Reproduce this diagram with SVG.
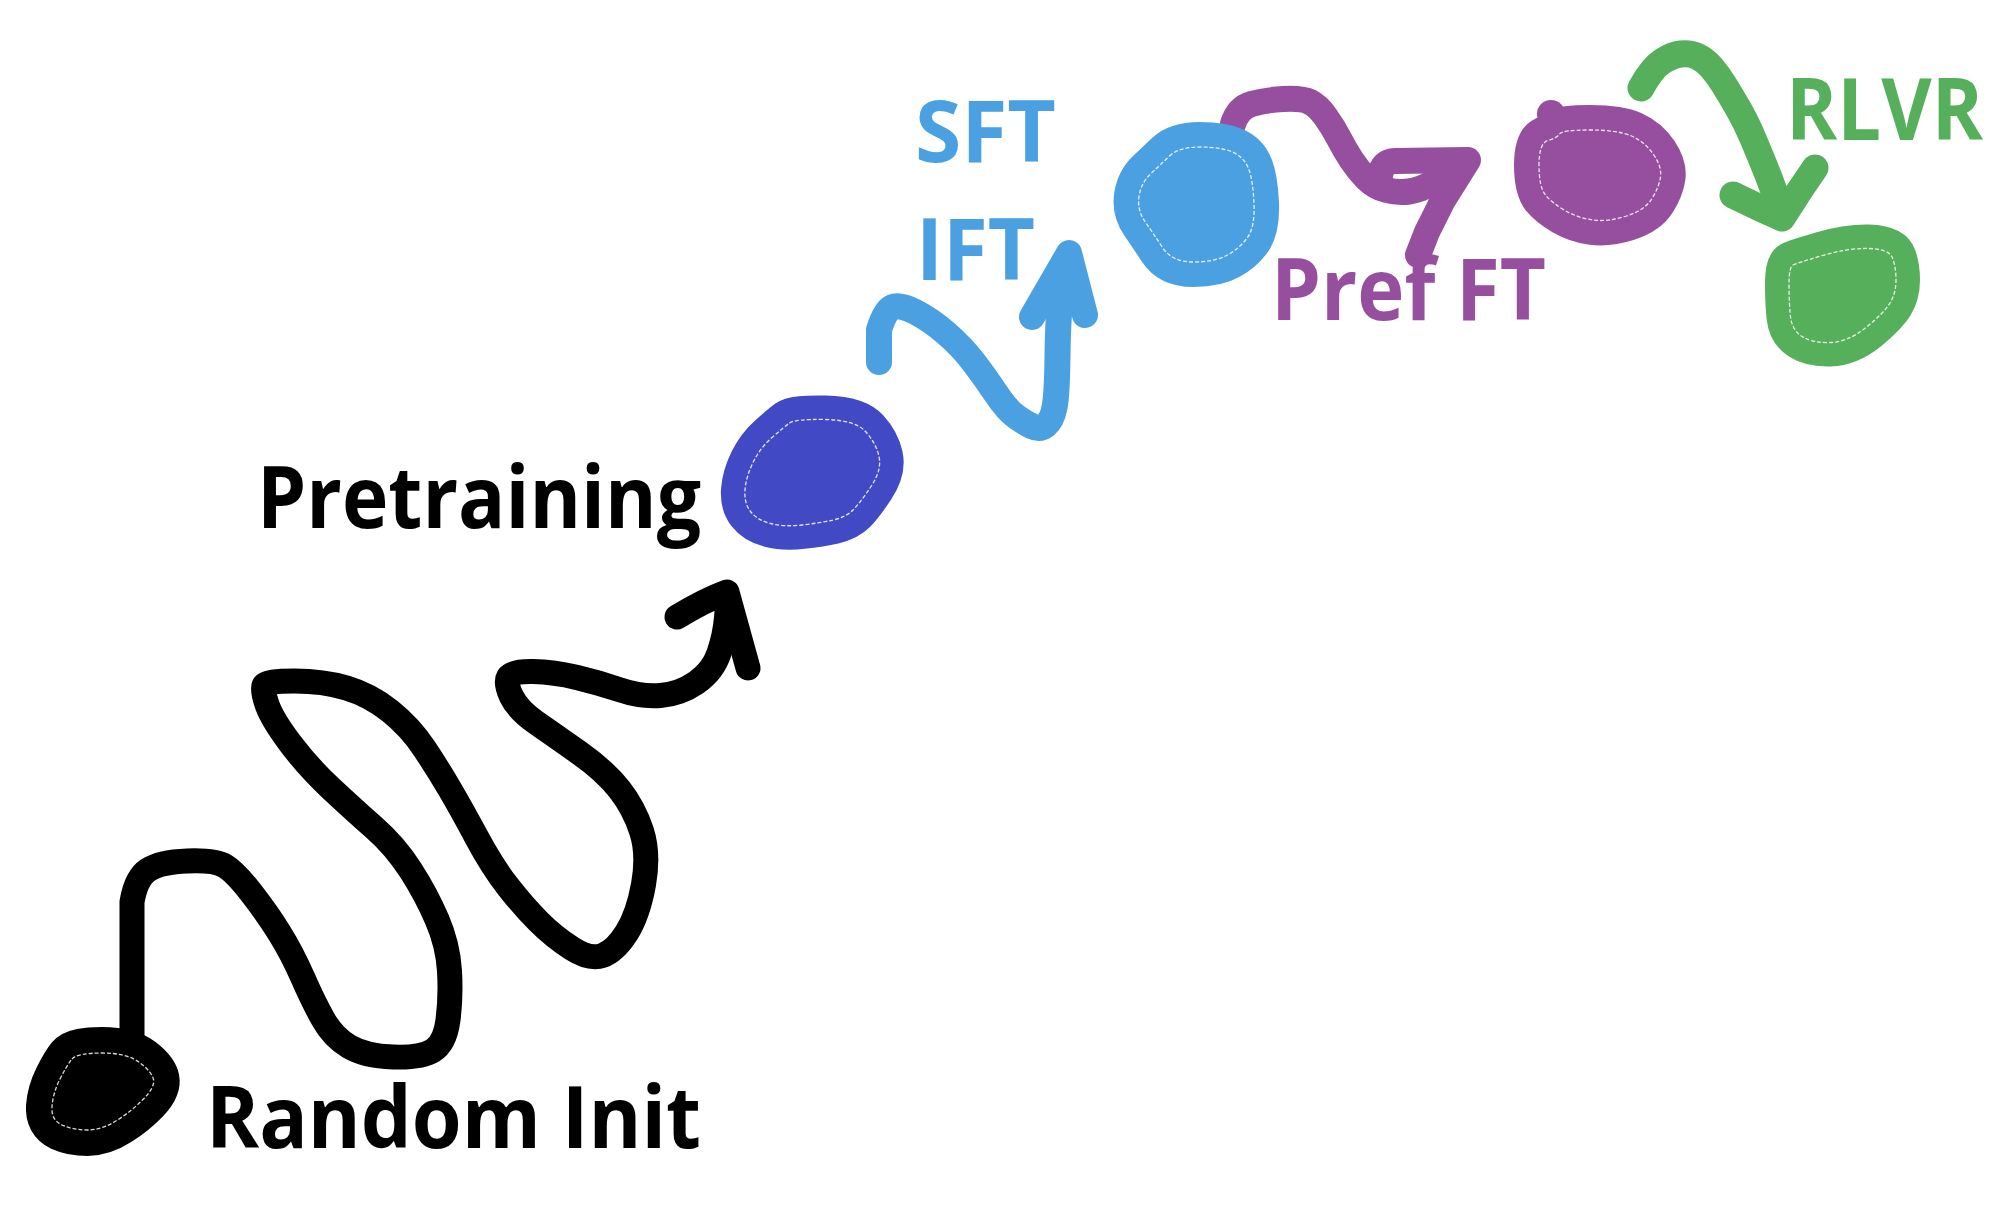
<svg xmlns="http://www.w3.org/2000/svg" width="2000" height="1220" viewBox="0 0 2000 1220">
<style>
.lbl{font-family:"Open Sans","Noto Sans","Liberation Sans",sans-serif;font-weight:700;font-size:86px}
.blob{stroke-linejoin:round;stroke-linecap:round}
.rim{fill:none;stroke:#ffffff;stroke-width:1.3;stroke-dasharray:4 2;opacity:0.85;stroke-linejoin:round}
.con{fill:none;stroke-linejoin:round;stroke-linecap:round}
.k{stroke:#000000;stroke-width:25}
.b{stroke:#4AA0E1;stroke-width:26}
.p{stroke:#964E9E;stroke-width:26}
.g{stroke:#56AF5A;stroke-width:27}
</style>
<defs>
  <path id="s-k" d="M72,1059 Q77,1053 102,1053 Q127,1053 139.5,1062.5 Q152,1072 153.5,1079.5 Q155,1087 144,1098.5 Q133,1110 117.5,1120 Q102,1130 87.5,1130 Q73,1130 62,1125 Q51,1120 52,1106.5 Q53,1093 60,1079 Q67,1065 72,1059 Z"/>
  <path id="s-d" d="M789.5,423 Q795,419 825,419.5 Q855,420 865.5,431.5 Q876,443 879,456.5 Q882,470 871,486.5 Q860,503 853,510 Q846,517 833,520 Q820,523 802,525 Q784,527 770.5,523.5 Q757,520 750.5,511.5 Q744,503 745,490 Q746,477 753,462.5 Q760,448 772,437.5 Q784,427 789.5,423 Z"/>
  <path id="s-b" d="M1169.5,156 Q1179,147 1200,147 Q1221,147 1232.5,152 Q1244,157 1248.5,168.5 Q1253,180 1254,203.5 Q1255,227 1247.5,237.5 Q1240,248 1227.5,255 Q1215,262 1193.5,262 Q1172,262 1162.5,247.5 Q1153,233 1145,221.5 Q1137,210 1139,196.5 Q1141,183 1150.5,174 Q1160,165 1169.5,156 Z"/>
  <path id="s-p" d="M1559.5,134 Q1562,130 1590,130 Q1618,130 1631.5,136 Q1645,142 1653.5,154.5 Q1662,167 1660.5,177 Q1659,187 1652,198.5 Q1645,210 1626.5,216 Q1608,222 1593,220 Q1578,218 1565,210.5 Q1552,203 1545.5,195 Q1539,187 1539,165 Q1539,143 1548,140.5 Q1557,138 1559.5,134 Z"/>
  <path id="s-g" d="M1793,265 Q1797,263 1822.5,255.5 Q1848,248 1868.5,248.5 Q1889,249 1892.5,258 Q1896,267 1896,280 Q1896,293 1890,303 Q1884,313 1866,327.5 Q1848,342 1830,342.5 Q1812,343 1802,336.5 Q1792,330 1790.5,316.5 Q1789,303 1789,285 Q1789,267 1793,265 Z"/>
</defs>
<rect width="2000" height="1220" fill="#ffffff"/>
<g id="connectors">
  <path class="con k" d="M132,1040 L132,902 Q136,878 148,870 Q160,862 187.5,861 Q215,860 225,866 Q235,872 251,892.5 Q267,913 279.5,933 Q292,953 302.5,977 Q313,1001 323,1019 Q333,1037 349,1046.5 Q365,1056 393,1057 Q421,1058 433,1050.5 Q445,1043 448,1020 Q451,997 449.5,971 Q448,945 437,919.5 Q426,894 410.5,870 Q395,846 374.5,828 Q354,810 331,788.5 Q308,767 290,743 Q272,719 267,704.5 Q262,690 264,685.5 Q266,681 294.5,681 Q323,681 346.5,688 Q370,695 390,711 Q410,727 424,748 Q438,769 450,789.5 Q462,810 477,838 Q492,866 507.5,886 Q523,906 538.5,921.5 Q554,937 572,948.5 Q590,960 602.5,955.5 Q615,951 626.5,933 Q638,915 643.5,884.5 Q649,854 641.5,831 Q634,808 619.5,789.5 Q605,771 579.5,753 Q554,735 536,722.5 Q518,710 511.5,696.5 Q505,683 508.5,677 Q512,671 533,671.5 Q554,672 577,677.5 Q600,683 620.5,690 Q641,697 660.5,695.5 Q680,694 696.5,682.5 Q713,671 719,653 Q725,635 726.5,617.5 L728,600"/>
  <path class="con k" d="M677,617 Q705,600 727,592 L748,668"/>
  <path class="con b" d="M879,362 L879,330 Q885,310 892.5,307 Q900,304 915.5,312 Q931,320 946.5,333.5 Q962,347 973.5,362 Q985,377 996,393.5 Q1007,410 1016,416.5 Q1025,423 1032.5,426.5 Q1040,430 1046,425 Q1052,420 1054.5,407.5 Q1057,395 1057.5,356 Q1058,317 1060.5,300 L1069,256"/>
  <path class="con b" d="M1032,317 L1069,253 L1085,315"/>
  <path class="con p" d="M1233,124 Q1238,108 1251.5,104 Q1265,100 1283.5,99 Q1302,98 1310,102 Q1318,106 1325.5,116.5 Q1333,127 1339,138.5 Q1345,150 1351.5,160 Q1358,170 1366.5,178.5 Q1375,187 1386.5,190 Q1398,193 1409,191.5 Q1420,190 1432.5,183 Q1445,176 1462,166"/>
  <path class="con p" d="M1380,176 Q1382,161 1395,161 L1468,160 L1443,200 L1427,232 L1418,255"/>
  <path class="con g" d="M1641,88 Q1652,68 1662,61.5 Q1672,55 1681,54 Q1690,53 1697.5,56.5 Q1705,60 1711.5,67.5 Q1718,75 1724.5,85.5 Q1731,96 1738.5,109 Q1746,122 1753,138.5 Q1760,155 1767,172.5 Q1774,190 1782,215"/>
  <path class="con g" d="M1733,195 L1760,208 L1782,218 L1800,190 L1815,168"/>
</g>
<g id="node-random-init">
  <use href="#s-k" class="blob" fill="#000000" stroke="#000000" stroke-width="52"/>
  <use href="#s-k" class="rim"/>
  <text class="lbl" fill="#000000" x="206" y="1148" textLength="495" lengthAdjust="spacingAndGlyphs">Random Init</text>
</g>
<g id="node-pretraining">
  <use href="#s-d" class="blob" fill="#4249C4" stroke="#4249C4" stroke-width="48"/>
  <use href="#s-d" class="rim"/>
  <text class="lbl" fill="#000000" x="257" y="528" textLength="444" lengthAdjust="spacingAndGlyphs">Pretraining</text>
</g>
<g id="node-sft">
  <use href="#s-b" class="blob" fill="#4AA0E1" stroke="#4AA0E1" stroke-width="50"/>
  <use href="#s-b" class="rim"/>
  <text class="lbl" fill="#4AA0E1" x="915" y="162" textLength="141" lengthAdjust="spacingAndGlyphs">SFT</text>
  <text class="lbl" fill="#4AA0E1" x="916" y="280" textLength="119" lengthAdjust="spacingAndGlyphs">IFT</text>
</g>
<g id="node-pref-ft">
  <use href="#s-p" class="blob" fill="#964E9E" stroke="#964E9E" stroke-width="50"/>
  <circle cx="1551" cy="114" r="14" fill="#964E9E"/>
  <use href="#s-p" class="rim"/>
  <text class="lbl" fill="#964E9E" x="1271" y="320" textLength="275" lengthAdjust="spacingAndGlyphs">Pref FT</text>
</g>
<g id="node-rlvr">
  <use href="#s-g" class="blob" fill="#56AF5A" stroke="#56AF5A" stroke-width="48"/>
  <use href="#s-g" class="rim"/>
  <text class="lbl" fill="#56AF5A" x="1786" y="140" textLength="197" lengthAdjust="spacingAndGlyphs">RLVR</text>
</g>
</svg>
